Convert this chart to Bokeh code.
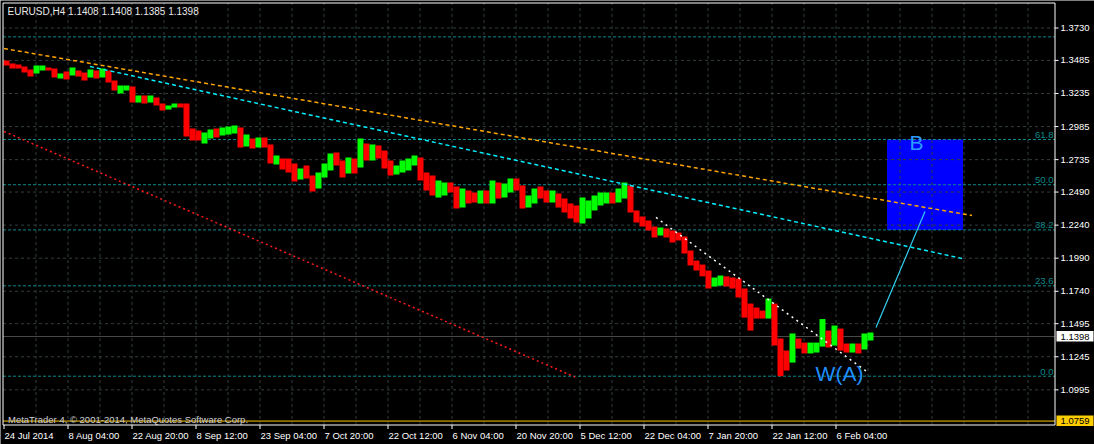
from bokeh.plotting import figure
from bokeh.models import Range1d, ColumnDataSource
from bokeh.core.properties import value
from bokeh.embed import file_html
from bokeh.resources import INLINE

# ---------------- data ----------------
symbol_text = "EURUSD,H4  1.1408 1.1408 1.1385 1.1398"
copyright_text = "MetaTrader 4, \u00a9 2001-2014, MetaQuotes Software Corp."

first_open = 1.3477
day_high = [
    1.3484, 1.3462, 1.3454, 1.3439, 1.3416, 1.3447, 1.3447, 1.3431, 1.3424, 1.3386,
    1.3401, 1.3431, 1.3409, 1.3394, 1.3416, 1.3409, 1.3424, 1.3409, 1.3333, 1.3295,
    1.3295, 1.3288, 1.3220, 1.3220, 1.3220, 1.3205, 1.3159, 1.3144, 1.3159, 1.3159,
    1.3159, 1.2970, 1.2955, 1.2940, 1.2963, 1.2970, 1.2978, 1.2985, 1.2993, 1.2978,
    1.2925, 1.2895, 1.2902, 1.2902, 1.2849, 1.2766, 1.2744, 1.2744, 1.2706, 1.2668,
    1.2691, 1.2615, 1.2638, 1.2706, 1.2781, 1.2789, 1.2728, 1.2751, 1.2744, 1.2895,
    1.2857, 1.2849, 1.2842, 1.2804, 1.2728, 1.2691, 1.2728, 1.2744, 1.2766, 1.2751,
    1.2638, 1.2615, 1.2578, 1.2562, 1.2562, 1.2532, 1.2517, 1.2502, 1.2486, 1.2502,
    1.2502, 1.2578, 1.2562, 1.2555, 1.2592, 1.2592, 1.2540, 1.2464, 1.2517, 1.2532,
    1.2502, 1.2502, 1.2479, 1.2441, 1.2403, 1.2388, 1.2449, 1.2426, 1.2464, 1.2486,
    1.2486, 1.2486, 1.2517, 1.2562, 1.2540, 1.2350, 1.2305, 1.2275, 1.2229, 1.2222,
    1.2214, 1.2199, 1.2184, 1.2154, 1.2048, 1.1972, 1.1942, 1.1897, 1.1844, 1.1859,
    1.1853, 1.1844, 1.1836, 1.1761, 1.1647, 1.1617, 1.1594, 1.1685, 1.1647, 1.1383,
    1.1292, 1.1421, 1.1383, 1.1352, 1.1352, 1.1352, 1.1530, 1.1443, 1.1481, 1.1458,
    1.1345, 1.1345, 1.1345, 1.1421, 1.1428,
]
day_low = [
    1.3447, 1.3424, 1.3424, 1.3394, 1.3363, 1.3386, 1.3409, 1.3409, 1.3356, 1.3348,
    1.3341, 1.3371, 1.3363, 1.3333, 1.3356, 1.3348, 1.3356, 1.3318, 1.3258, 1.3235,
    1.3258, 1.3167, 1.3167, 1.3159, 1.3167, 1.3144, 1.3106, 1.3114, 1.3129, 1.3129,
    1.2910, 1.2880, 1.2880, 1.2857, 1.2895, 1.2902, 1.2917, 1.2925, 1.2933, 1.2827,
    1.2834, 1.2819, 1.2827, 1.2827, 1.2706, 1.2698, 1.2660, 1.2638, 1.2570, 1.2585,
    1.2592, 1.2494, 1.2517, 1.2600, 1.2653, 1.2691, 1.2600, 1.2630, 1.2630, 1.2676,
    1.2728, 1.2728, 1.2744, 1.2668, 1.2615, 1.2623, 1.2638, 1.2653, 1.2691, 1.2578,
    1.2502, 1.2464, 1.2449, 1.2464, 1.2486, 1.2366, 1.2373, 1.2403, 1.2411, 1.2403,
    1.2403, 1.2403, 1.2441, 1.2449, 1.2486, 1.2502, 1.2366, 1.2373, 1.2403, 1.2441,
    1.2411, 1.2411, 1.2373, 1.2335, 1.2290, 1.2260, 1.2252, 1.2290, 1.2350, 1.2388,
    1.2403, 1.2403, 1.2411, 1.2441, 1.2335, 1.2260, 1.2229, 1.2199, 1.2146, 1.2161,
    1.2146, 1.2108, 1.2124, 1.2025, 1.1935, 1.1897, 1.1853, 1.1761, 1.1776, 1.1783,
    1.1776, 1.1761, 1.1693, 1.1541, 1.1443, 1.1534, 1.1534, 1.1534, 1.1330, 1.1098,
    1.1141, 1.1201, 1.1307, 1.1270, 1.1270, 1.1277, 1.1322, 1.1315, 1.1330, 1.1292,
    1.1277, 1.1277, 1.1270, 1.1300, 1.1368,
]
day_close = [
    1.3454, 1.3439, 1.3431, 1.3401, 1.3394, 1.3416, 1.3424, 1.3418, 1.3363, 1.3379,
    1.3371, 1.3416, 1.3379, 1.3348, 1.3401, 1.3379, 1.3409, 1.3333, 1.3265, 1.3273,
    1.3288, 1.3182, 1.3205, 1.3182, 1.3205, 1.3159, 1.3122, 1.3137, 1.3152, 1.3150,
    1.2933, 1.2917, 1.2902, 1.2925, 1.2948, 1.2940, 1.2963, 1.2970, 1.2978, 1.2849,
    1.2910, 1.2849, 1.2880, 1.2849, 1.2728, 1.2744, 1.2683, 1.2676, 1.2592, 1.2653,
    1.2615, 1.2517, 1.2615, 1.2691, 1.2766, 1.2728, 1.2638, 1.2713, 1.2691, 1.2819,
    1.2766, 1.2804, 1.2789, 1.2706, 1.2653, 1.2668, 1.2706, 1.2728, 1.2744, 1.2615,
    1.2555, 1.2517, 1.2524, 1.2532, 1.2524, 1.2403, 1.2479, 1.2456, 1.2450, 1.2464,
    1.2441, 1.2540, 1.2502, 1.2524, 1.2562, 1.2540, 1.2396, 1.2441, 1.2502, 1.2486,
    1.2456, 1.2464, 1.2426, 1.2366, 1.2328, 1.2313, 1.2388, 1.2403, 1.2441, 1.2456,
    1.2464, 1.2456, 1.2486, 1.2517, 1.2350, 1.2290, 1.2260, 1.2229, 1.2177, 1.2199,
    1.2169, 1.2154, 1.2150, 1.2048, 1.1957, 1.1927, 1.1882, 1.1799, 1.1821, 1.1829,
    1.1806, 1.1791, 1.1708, 1.1594, 1.1590, 1.1579, 1.1564, 1.1632, 1.1368, 1.1254,
    1.1247, 1.1368, 1.1337, 1.1315, 1.1322, 1.1330, 1.1443, 1.1352, 1.1443, 1.1322,
    1.1307, 1.1315, 1.1300, 1.1383, 1.1398,
]

date_labels = ["24 Jul 2014", "8 Aug 04:00", "22 Aug 20:00", "8 Sep 12:00", "23 Sep 04:00",
               "7 Oct 20:00", "22 Oct 12:00", "6 Nov 04:00", "20 Nov 20:00", "5 Dec 12:00",
               "22 Dec 04:00", "7 Jan 20:00", "22 Jan 12:00", "6 Feb 04:00"]
price_ticks = [1.3730, 1.3485, 1.3235, 1.2985, 1.2735, 1.2490, 1.2240,
               1.1990, 1.1740, 1.1495, 1.1245, 1.0995]

fib_low, fib_high = 1.1098, 1.3993
fib_levels = [0.0, 23.6, 38.2, 50.0, 61.8]
extra_level = 1.3663
last_price = 1.1398
alert_price = 1.0759

# trend lines: ([bar, bar], [price, price])
orange_line = ([0, 968], [1.3575, 1.2313])
cyan_dash_line = ([86, 958], [1.3439, 1.1988])
red_line = ([0, 571], [1.2948, 1.1092])
white_line = ([652, 864], [1.2298, 1.1126])
cyan_solid_line = ([872, 921], [1.1466, 1.2343])
box_b_bars = [883, 959]
label_b = (912.5, 1.2865, "B")
label_wa = (835.5, 1.1122, "W(A)")

# ---------------- layout / style ----------------
W, H = 1094, 444
BARS_PER_DAY = 6
BARS_PER_LABEL = 64
BARS_PER_GRID = 32
PRICE_PER_PX = 1 / 1323.0
X_LEFT = -3.5                      # bar value at canvas left edge (1 px per bar)
Y_TOP = 1.3730 + 27.5 * PRICE_PER_PX


def py(pixel_y):
    """price at a given pixel row (for placing frame furniture)"""
    return Y_TOP - pixel_y * PRICE_PER_PX


FRAME_L, FRAME_R = -1.0, 1051.0
FRAME_T, FRAME_B = py(2.5), py(424.5)

FONT = value("Liberation Sans")
FS = "9.5px"
GRID = "#333d3d"
FIB = "#0a8a8a"

n = len(day_close)
opens = [first_open] + day_close[:-1]
xs = [d * BARS_PER_DAY + (BARS_PER_DAY - 1) / 2 for d in range(n)]
colors = ["#00FF00" if c >= o else "#FF0000" for o, c in zip(opens, day_close)]
src = ColumnDataSource(dict(x=xs, hi=day_high, lo=day_low, c=colors))


def fib_price(lvl):
    return fib_low + (fib_high - fib_low) * lvl / 100.0


p = figure(frame_width=W, frame_height=H,
           x_range=Range1d(X_LEFT, X_LEFT + W), y_range=Range1d(py(H), Y_TOP),
           x_axis_location=None, y_axis_location=None,
           output_backend="svg", toolbar_location=None,
           min_border=0, min_border_left=0, min_border_right=0,
           min_border_top=0, min_border_bottom=0,
           background_fill_color="black", border_fill_color="black",
           outline_line_color=None)
p.xgrid.visible = False
p.ygrid.visible = False

# B box (background object)
p.quad(left=[box_b_bars[0]], right=[box_b_bars[1]],
       bottom=[fib_price(38.2)], top=[fib_price(61.8)],
       fill_color="#0000FF", line_color=None)

# grid
gx = list(range(BARS_PER_GRID, int(FRAME_R), BARS_PER_GRID))
p.segment(x0=gx, x1=gx, y0=[FRAME_B] * len(gx), y1=[FRAME_T] * len(gx),
          line_color=GRID, line_dash="3 3", line_width=1)
p.segment(x0=[FRAME_L] * len(price_ticks), x1=[FRAME_R] * len(price_ticks),
          y0=price_ticks, y1=price_ticks, line_color=GRID, line_dash="3 3", line_width=1)

# fibo levels
fib_prices = [fib_price(l) for l in fib_levels] + [extra_level]
p.segment(x0=[FRAME_L] * len(fib_prices), x1=[FRAME_R] * len(fib_prices),
          y0=fib_prices, y1=fib_prices, line_color=FIB, line_dash="3 2", line_width=1)
p.text(x=[FRAME_R - 1.5] * len(fib_levels), y=[fib_price(l) + 1.5 * PRICE_PER_PX for l in fib_levels],
       text=[f"{l:.1f}" for l in fib_levels], text_align="right", text_baseline="bottom",
       text_color=FIB, text_font=FONT, text_font_size=FS)

# price lines
p.segment(x0=[FRAME_L], x1=[FRAME_R], y0=[last_price], y1=[last_price],
          line_color="#4a4a4a", line_width=1)
p.segment(x0=[FRAME_L], x1=[FRAME_R], y0=[alert_price], y1=[alert_price],
          line_color="#FFC800", line_width=1)

# candles
p.vbar(x="x", width=BARS_PER_DAY, top="hi", bottom="lo", source=src,
       fill_color="c", line_color=None)

# trend lines
p.line(orange_line[0], orange_line[1], line_color="#FFA500", line_dash="4 3", line_width=1.5)
p.line(cyan_dash_line[0], cyan_dash_line[1], line_color="#00F0FF", line_dash="4 3", line_width=1.5)
p.line(red_line[0], red_line[1], line_color="#FF1A1A", line_dash="2 3", line_width=1.5)
p.line(white_line[0], white_line[1], line_color="white", line_dash="2 4", line_width=1.5)
p.line(cyan_solid_line[0], cyan_solid_line[1], line_color="#30D0F0", line_width=1.2)

# wave labels
p.text(x=[label_b[0]], y=[label_b[1]], text=[label_b[2]], text_align="center",
       text_baseline="middle", text_color="#2E9BFF", text_font=FONT, text_font_size="21px")
p.text(x=[label_wa[0]], y=[label_wa[1]], text=[label_wa[2]], text_align="center",
       text_baseline="middle", text_color="#1E90FF", text_font=FONT, text_font_size="21px")

# header / footer
p.text(x=[3.5], y=[py(10.5)], text=[symbol_text], text_baseline="middle",
       text_color="#e8e8e8", text_font=FONT, text_font_size="10px")
p.text(x=[4.0], y=[py(418.5)], text=[copyright_text], text_baseline="middle",
       text_color="#d0d0d0", text_font=FONT, text_font_size=FS)

# frame border
p.segment(x0=[FRAME_L, FRAME_R, FRAME_L, FRAME_L], x1=[FRAME_L, FRAME_R, FRAME_R, FRAME_R],
          y0=[FRAME_B, FRAME_B, FRAME_T, FRAME_B], y1=[FRAME_T, FRAME_T, FRAME_T, FRAME_B],
          line_color="white", line_width=1)

# right price scale
p.segment(x0=[FRAME_R] * len(price_ticks), x1=[FRAME_R + 3.5] * len(price_ticks),
          y0=price_ticks, y1=price_ticks, line_color="white", line_width=1)
p.text(x=[FRAME_R + 5.5] * len(price_ticks), y=price_ticks,
       text=[f"{t:.4f}" for t in price_ticks], text_align="left", text_baseline="middle",
       text_color="white", text_font=FONT, text_font_size=FS)

# bottom time scale
x_ticks = [i * BARS_PER_LABEL for i in range(len(date_labels))]
p.segment(x0=x_ticks, x1=x_ticks, y0=[FRAME_B] * len(x_ticks),
          y1=[py(428.5)] * len(x_ticks), line_color="white", line_width=1)
p.text(x=[t + 0.5 for t in x_ticks], y=[py(435)] * len(x_ticks), text=date_labels,
       text_align="left", text_baseline="middle",
       text_color="white", text_font=FONT, text_font_size=FS)

# right price boxes
box_prices = [last_price, alert_price]
p.quad(left=[FRAME_R + 1.5] * 2, right=[FRAME_R + 38.5] * 2,
       bottom=[b - 5 * PRICE_PER_PX for b in box_prices],
       top=[b + 5.5 * PRICE_PER_PX for b in box_prices],
       fill_color=["white", "#FFCC00"], line_color=None)
p.text(x=[FRAME_R + 5.5] * 2, y=box_prices, text=[f"{b:.4f}" for b in box_prices],
       text_align="left", text_baseline="middle", text_color="black",
       text_font=FONT, text_font_size=FS)

open("out.html", "w").write(file_html(p, INLINE))
